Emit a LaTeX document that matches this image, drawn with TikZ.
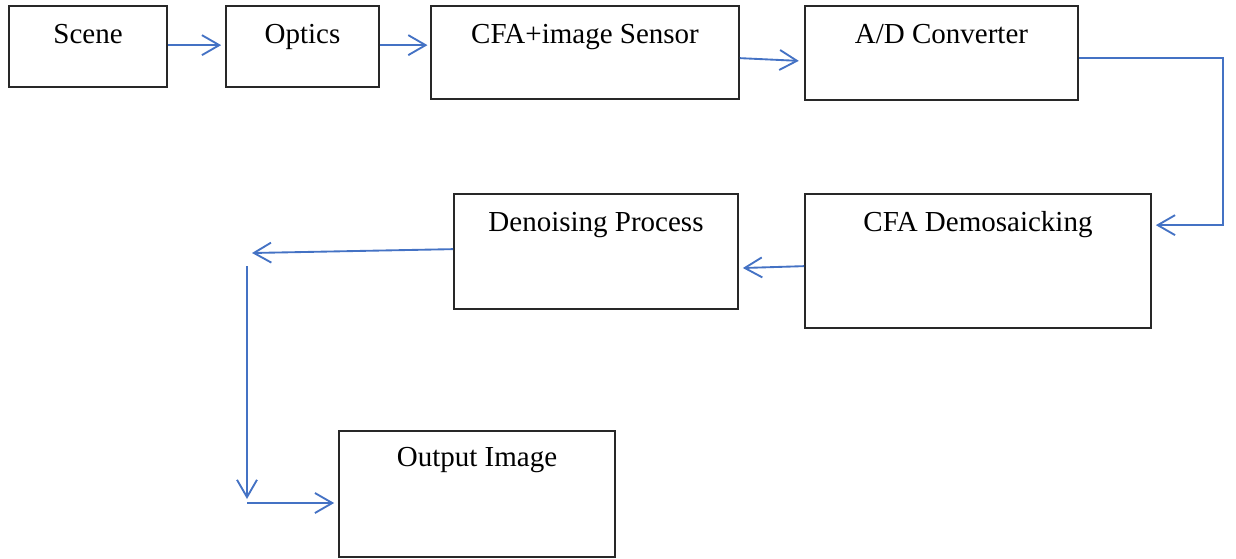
\documentclass[tikz,border=0pt]{standalone}
\usepackage{fontspec}
\setmainfont{Liberation Serif}
\usetikzlibrary{arrows.meta,calc,fit}
\definecolor{arrowblue}{RGB}{68,114,196}
\definecolor{boxgray}{RGB}{40,40,40}
\begin{document}
\begin{tikzpicture}[x=0.75pt,y=-0.75pt,
  box/.style={draw=boxgray,line width=1.3pt,rectangle,inner sep=0pt},
  lbl/.style={anchor=base,font=\fontsize{21.75}{26}\selectfont,inner sep=0pt},
  conn/.style={draw=arrowblue,line width=1.4pt,-{Straight Barb[length=13pt,width=15pt,line width=1.4pt]}},
  plain/.style={draw=arrowblue,line width=1.4pt}]
\useasboundingbox (0,0) rectangle (1236,558);
% boxes
\path (9,6) coordinate (scene-a) (167,87) coordinate (scene-b);
\path (226,6) coordinate (optics-a) (379,87) coordinate (optics-b);
\path (431,6) coordinate (cfa-a) (739,99) coordinate (cfa-b);
\path (805,6) coordinate (ad-a) (1078,100) coordinate (ad-b);
\path (805,194) coordinate (demo-a) (1151,328) coordinate (demo-b);
\path (454,194) coordinate (den-a) (738,309) coordinate (den-b);
\path (339,431) coordinate (out-a) (615,557) coordinate (out-b);
\node[box,fit=(scene-a)(scene-b)] (scene) {};
\node[box,fit=(optics-a)(optics-b)] (optics) {};
\node[box,fit=(cfa-a)(cfa-b)] (cfa) {};
\node[box,fit=(ad-a)(ad-b)] (ad) {};
\node[box,fit=(demo-a)(demo-b)] (demo) {};
\node[box,fit=(den-a)(den-b)] (den) {};
\node[box,fit=(out-a)(out-b)] (out) {};
% labels
\node[lbl] (scene-t) at ($(scene.north)+(0,38)$) {Scene};
\node[lbl] (optics-t) at ($(optics.north)+(0,38)$) {Optics};
\node[lbl] (cfa-t) at ($(cfa.north)+(0,38)$) {CFA+image Sensor};
\node[lbl] (ad-t) at ($(ad.north)+(0,38)$) {A/D Converter};
\node[lbl] (demo-t) at ($(demo.north)+(0,38)$) {CFA Demosaicking};
\node[lbl] (den-t) at ($(den.north)+(0,38)$) {Denoising Process};
\node[lbl] (out-t) at ($(out.north)+(0,36)$) {Output Image};
% connectors
\draw[conn,shorten >=3pt] ($(scene.north east)+(0,40)$) -- ($(optics.north west)+(0,40)$);
\draw[conn,shorten >=2pt] ($(optics.north east)+(0,40)$) -- ($(cfa.north west)+(0,40)$);
\draw[conn,shorten >=4pt] ($(cfa.north east)+(0,53)$) -- ($(ad.north west)+(0,56)$);
\coordinate (r1) at ($(ad.north east)+(144,53)$);
\draw[conn,shorten >=3pt] ($(ad.north east)+(0,53)$) -- (r1) |- ($(demo.north east)+(0,32)$);
\draw[conn,shorten >=3pt] ($(demo.north west)+(0,73)$) -- ($(den.north east)+(0,75)$);
\coordinate (c1) at (252,253);
\draw[conn] ($(den.north west)+(0,56)$) -- (c1);
\coordinate (v1) at (247,266);
\coordinate (v2) at (247,499);
\draw[conn] (v1) -- (v2);
\coordinate (h1) at (247,503);
\draw[conn,shorten >=3pt] (h1) -- (h1 -| out.west);
\end{tikzpicture}
\end{document}
